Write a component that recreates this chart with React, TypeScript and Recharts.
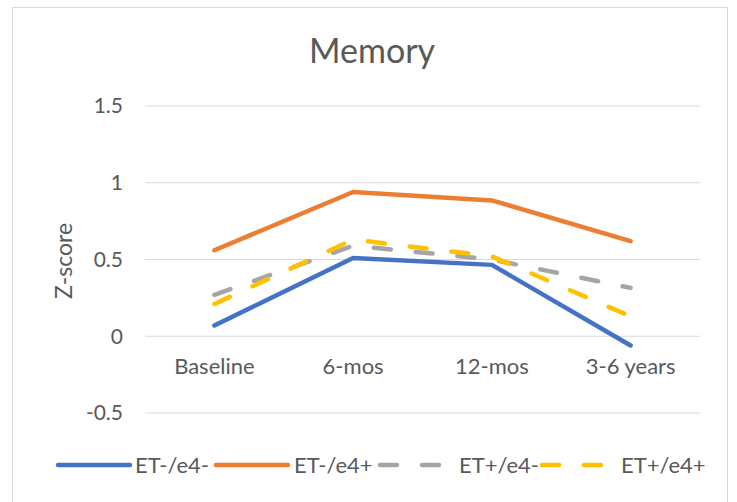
import React from 'react';
import { LineChart, Line, XAxis, YAxis, CartesianGrid } from 'recharts';

const categories = ['Baseline', '6-mos', '12-mos', '3-6 years'];
const etNegE4Neg = [0.07, 0.51, 0.465, -0.06];
const etNegE4Pos = [0.56, 0.94, 0.885, 0.62];
const etPosE4Neg = [0.27, 0.59, 0.5, 0.315];
const etPosE4Pos = [0.21, 0.63, 0.52, 0.13];
const yTicks = [-0.5, 0, 0.5, 1, 1.5];

const series = [
  { key: 'a', name: 'ET-/e4-', values: etNegE4Neg, color: '#4472C4', dash: undefined as string | undefined },
  { key: 'b', name: 'ET-/e4+', values: etNegE4Pos, color: '#ED7D31', dash: undefined as string | undefined },
  { key: 'c', name: 'ET+/e4-', values: etPosE4Neg, color: '#A5A5A5', dash: '17 25' },
  { key: 'd', name: 'ET+/e4+', values: etPosE4Pos, color: '#FFC000', dash: '17 25' },
];

const data = categories.map((c, i) => {
  const row: Record<string, string | number> = { cat: c };
  series.forEach((s) => (row[s.key] = s.values[i]));
  return row;
});

const W = 737;
const H = 502;
const PLOT_TOP = 106;
const PLOT_BOTTOM = 413;
const PLOT_LEFT = 145;
const PLOT_RIGHT = 700;
const Y_MIN = -0.5;
const Y_MAX = 1.5;
const ZERO_Y = PLOT_TOP + ((PLOT_BOTTOM - PLOT_TOP) * (Y_MAX - 0)) / (Y_MAX - Y_MIN);
const FONT = 'Lato, Carlito, Calibri, sans-serif';
const TEXT = '#595959';
const GRID = '#D9D9D9';

const XTick = (props: any) => {
  const { x, payload } = props;
  return (
    <text x={x} y={ZERO_Y + 38} textAnchor="middle" fill={TEXT} fontSize={22} fontFamily={FONT}>
      {payload.value}
    </text>
  );
};

const legendItems = [
  { x: 58, tx: 135 },
  { x: 216, tx: 294 },
  { x: 380, tx: 459 },
  { x: 542, tx: 621 },
];

export default function App() {
  return (
    <div style={{ position: 'fixed', left: 0, top: 0, width: W, height: H, background: '#fff' }}>
      <div
        style={{
          position: 'absolute',
          left: 12,
          top: 7,
          width: 716,
          height: 500,
          border: '1px solid #D9D9D9',
          boxSizing: 'border-box',
        }}
      />
      <LineChart
        width={W}
        height={H}
        data={data}
        margin={{ top: PLOT_TOP, right: W - PLOT_RIGHT, bottom: H - PLOT_BOTTOM - 30, left: PLOT_LEFT - 60 }}
        style={{ position: 'absolute', left: 0, top: 0 }}
      >
        <CartesianGrid vertical={false} stroke={GRID} strokeWidth={1} />
        <XAxis
          dataKey="cat"
          scale="band"
          height={30}
          axisLine={false}
          tickLine={false}
          tick={<XTick />}
          interval={0}
        />
        <YAxis
          width={60}
          domain={[Y_MIN, Y_MAX]}
          ticks={yTicks}
          axisLine={false}
          tickLine={false}
          tickSize={0}
          tickMargin={22}
          tick={{ fill: TEXT, fontSize: 21, fontFamily: FONT }}
        />
        {series.map((s) => (
          <Line
            key={s.key}
            dataKey={s.key}
            name={s.name}
            stroke={s.color}
            strokeWidth={4.5}
            strokeDasharray={s.dash}
            strokeLinecap="round"
            strokeLinejoin="round"
            dot={false}
            activeDot={false}
            isAnimationActive={false}
            type="linear"
          />
        ))}
        <text x={372} y={63} textAnchor="middle" fill={TEXT} fontSize={34} fontFamily={FONT}>
          Memory
        </text>
        <text
          x={63}
          y={261}
          transform="rotate(-90, 63, 261)"
          textAnchor="middle"
          dominantBaseline="central"
          fill={TEXT}
          fontSize={23}
          fontFamily={FONT}
        >
          Z-score
        </text>
        {series.map((s, i) => (
          <g key={s.key}>
            <line
              x1={legendItems[i].x}
              x2={legendItems[i].x + 72}
              y1={465}
              y2={465}
              stroke={s.color}
              strokeWidth={4.5}
              strokeLinecap="round"
              strokeDasharray={s.dash}
            />
            <text x={legendItems[i].tx} y={473} fill={TEXT} fontSize={22} fontFamily={FONT}>
              {s.name}
            </text>
          </g>
        ))}
      </LineChart>
    </div>
  );
}
